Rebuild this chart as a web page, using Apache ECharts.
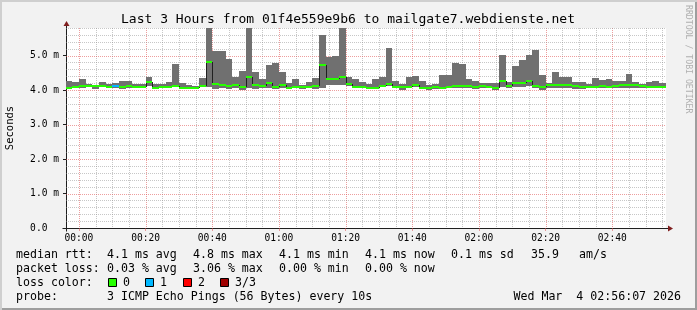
<!DOCTYPE html>
<html>
<head>
<meta charset="utf-8">
<script src="https://cdn.jsdelivr.net/npm/echarts@6/dist/echarts.min.js"></script>
<style>
html,body{margin:0;padding:0;background:#f2f2f2;}
#c{width:697px;height:310px;background:#f2f2f2;box-shadow:inset 2px 2px 0 #cfcfcf, inset -2px -2px 0 #9e9e9e;}
</style>
</head>
<body>
<div id="c"></div>
<script>
// ---------------- DATA ----------------
// time axis in minutes relative to 00:00 (Wed Mar 4 2026)
const windowStart = -(3 + 53 / 60);   // 23:56:07
const windowEnd = 176 + 7 / 60;       // 02:56:07
const firstBarStart = -4;             // 23:56:00
const barMinutes = 2;

// RTT values in milliseconds, one entry per 2-minute bar
const rttMax = [
  4.25, 4.24, 4.31, 4.17, 4.14, 4.23, 4.17, 4.20, 4.25, 4.25,
  4.19, 4.17, 4.38, 4.19, 4.19, 4.22, 4.75, 4.20, 4.14, 4.12,
  4.34, 6.20, 5.12, 5.14, 4.90, 4.38, 4.55, 6.10, 4.52, 4.31,
  4.73, 4.79, 4.52, 4.20, 4.31, 4.15, 4.22, 4.35, 5.61, 4.97,
  4.98, 6.10, 4.38, 4.32, 4.24, 4.17, 4.31, 4.38, 5.23, 4.26,
  4.17, 4.37, 4.40, 4.25, 4.16, 4.19, 4.43, 4.43, 4.78, 4.75,
  4.31, 4.25, 4.20, 4.20, 4.20, 5.02, 4.22, 4.70, 4.87, 5.02,
  5.16, 4.43, 4.21, 4.52, 4.38, 4.38, 4.23, 4.23, 4.17, 4.34,
  4.29, 4.31, 4.25, 4.25, 4.46, 4.23, 4.17, 4.23, 4.25, 4.20
];
const rttMedian = [
  4.07, 4.10, 4.12, 4.11, 4.11, 4.12, 4.10, 4.11, 4.10, 4.12,
  4.10, 4.10, 4.22, 4.07, 4.09, 4.09, 4.12, 4.06, 4.06, 4.06,
  4.11, 4.82, 4.17, 4.14, 4.12, 4.14, 4.09, 4.38, 4.15, 4.11,
  4.21, 4.10, 4.15, 4.05, 4.10, 4.10, 4.10, 4.12, 4.74, 4.33,
  4.33, 4.39, 4.17, 4.09, 4.09, 4.07, 4.07, 4.12, 4.17, 4.09,
  4.09, 4.09, 4.15, 4.07, 4.06, 4.10, 4.07, 4.10, 4.12, 4.12,
  4.12, 4.09, 4.11, 4.10, 4.06, 4.26, 4.11, 4.21, 4.21, 4.25,
  4.11, 4.08, 4.14, 4.14, 4.14, 4.14, 4.11, 4.09, 4.09, 4.09,
  4.11, 4.09, 4.11, 4.14, 4.14, 4.14, 4.11, 4.09, 4.09, 4.09
];
const rttMin = [
  4.04, 4.07, 4.07, 4.09, 4.04, 4.09, 4.07, 4.07, 4.02, 4.07,
  4.09, 4.09, 4.12, 4.03, 4.06, 4.06, 4.08, 4.04, 4.04, 4.04,
  4.08, 4.08, 4.04, 4.07, 4.03, 4.07, 4.01, 4.07, 4.03, 4.07,
  4.07, 4.04, 4.07, 4.02, 4.07, 4.03, 4.07, 4.03, 4.07, 4.15,
  4.15, 4.16, 4.11, 4.05, 4.07, 4.04, 4.04, 4.09, 4.11, 4.07,
  4.01, 4.07, 4.10, 4.04, 4.01, 4.04, 4.04, 4.07, 4.07, 4.07,
  4.07, 4.04, 4.07, 4.07, 4.01, 4.09, 4.07, 4.09, 4.10, 4.12,
  4.05, 4.01, 4.07, 4.07, 4.07, 4.07, 4.04, 4.04, 4.07, 4.05,
  4.07, 4.05, 4.07, 4.07, 4.07, 4.07, 4.07, 4.05, 4.07, 4.07
];
// lost pings per bar (index into lossLabels / lossColors)
const lossClass = [
  0, 0, 0, 0, 0, 0, 0, 1, 0, 0,
  0, 0, 0, 0, 0, 0, 0, 0, 0, 0,
  0, 0, 0, 0, 0, 0, 0, 0, 0, 0,
  0, 0, 0, 0, 0, 0, 0, 0, 0, 0,
  0, 0, 0, 0, 0, 0, 0, 0, 0, 0,
  0, 0, 0, 0, 0, 0, 0, 0, 0, 0,
  0, 0, 0, 0, 0, 0, 0, 0, 0, 0,
  0, 0, 0, 0, 0, 0, 0, 0, 0, 0,
  0, 0, 0, 0, 0, 0, 0, 0, 0, 0
];
const lossLabels = ['0', '1', '2', '3/3'];
const lossColors = ['#26ff00', '#00b8ff', '#ff0000', '#a00000'];

// tick labels
const xTickValues = [0, 20, 40, 60, 80, 100, 120, 140, 160];
const xTickLabels = ['00:00', '00:20', '00:40', '01:00', '01:20', '01:40', '02:00', '02:20', '02:40'];
const yTickValues = [0, 1, 2, 3, 4, 5];
const yTickLabels = ['0.0  ', '1.0 m', '2.0 m', '3.0 m', '4.0 m', '5.0 m'];
const yMax = 5.8;

// text
const titleText = 'Last 3 Hours from 01f4e559e9b6 to mailgate7.webdienste.net';
const rttStats = ['4.1 ms avg', '4.8 ms max', '4.1 ms min', '4.1 ms now', '0.1 ms sd', '35.9', 'am/s'];
const lossStats = ['0.03 % avg', '3.06 % max', '0.00 % min', '0.00 % now'];
const probeText = '3 ICMP Echo Pings (56 Bytes) every 10s';
const dateText = 'Wed Mar  4 02:56:07 2026';

// ---------------- STYLE ----------------
const MONO = '"DejaVu Sans Mono", "Liberation Mono", monospace';
const SMOKE = '#707070';
const GRID_MINOR = 'rgba(143,143,143,0.5)';
const GRID_MAJOR = 'rgba(222,79,79,0.55)';
const AXIS = '#1f1f1f';
const ARROW = '#801f1f';

// ---------------- BUILD ----------------
const barData = rttMedian.map((m, i) => [
  firstBarStart + i * barMinutes,
  firstBarStart + (i + 1) * barMinutes,
  rttMin[i], rttMax[i], m,
  i > 0 ? rttMedian[i - 1] : m,
  lossClass[i]
]);

const vGrid = [];
for (let v = Math.ceil(windowStart / 5) * 5; v < windowEnd; v += 5) {
  if (v <= windowStart) continue;
  vGrid.push([v, 0, v % 20 === 0 ? 1 : 0]);
}
const hGrid = [];
for (let k = 1; k <= Math.round(yMax * 5); k++) {
  hGrid.push([windowStart, k / 5, k % 5 === 0 ? 1 : 0]);
}

function renderVGrid(params, api) {
  const cs = params.coordSys;
  const x = Math.round(api.coord([api.value(0), 0])[0]) + 0.5;
  return {
    type: 'line', silent: true,
    shape: { x1: x, y1: cs.y, x2: x, y2: cs.y + cs.height },
    style: { stroke: api.value(2) ? GRID_MAJOR : GRID_MINOR, lineWidth: 1, lineDash: [1, 1] }
  };
}
function renderHGrid(params, api) {
  const cs = params.coordSys;
  const y = Math.round(api.coord([windowStart, api.value(1)])[1]) + 0.5;
  return {
    type: 'line', silent: true,
    shape: { x1: cs.x, y1: y, x2: cs.x + cs.width, y2: y },
    style: { stroke: api.value(2) ? GRID_MAJOR : GRID_MINOR, lineWidth: 1, lineDash: [1, 1] }
  };
}
function renderBar(params, api) {
  const cs = params.coordSys;
  const t0 = api.value(0), t1 = api.value(1);
  const lo = api.value(2), hi = api.value(3), med = api.value(4), prev = api.value(5);
  const loss = api.value(6);
  const a = api.coord([t0, hi]), b = api.coord([t1, lo]);
  const xl = Math.round(Math.max(a[0], cs.x));
  const xr = Math.round(Math.min(b[0], cs.x + cs.width));
  const top = Math.round(Math.max(a[1], cs.y));
  const bot = Math.round(Math.min(b[1], cs.y + cs.height));
  const ym = Math.round(api.coord([t0, med])[1]);
  const yp = Math.round(api.coord([t0, prev])[1]);
  const children = [];
  if (xr > xl && bot > top) {
    children.push({ type: 'rect', shape: { x: xl, y: top, width: xr - xl, height: bot - top }, style: { fill: SMOKE } });
  }
  children.push({ type: 'polyline', shape: { points: [[xl + 0.5, yp], [xl + 0.5, ym], [xr, ym]] },
    style: { stroke: '#202020', lineWidth: 1, fill: null } });
  children.push({ type: 'rect', shape: { x: xl, y: ym - 1, width: xr - xl, height: 2 },
    style: { fill: lossColors[loss] } });
  return { type: 'group', children };
}

const chart = echarts.init(document.getElementById('c'), null, { renderer: 'canvas' });
chart.setOption({
  animation: false,
  backgroundColor: 'transparent',
  grid: { left: 66, top: 28, width: 600, height: 200, show: true, backgroundColor: '#ffffff', borderWidth: 0 },
  xAxis: {
    type: 'value', min: windowStart, max: windowEnd,
    axisLine: { show: true, onZero: false, lineStyle: { color: AXIS, width: 1 } },
    axisTick: { show: true, customValues: xTickValues, length: 3, lineStyle: { color: GRID_MAJOR } },
    axisLabel: {
      show: true, customValues: xTickValues, margin: 5, color: '#000',
      fontFamily: MONO, fontSize: 9.6,
      formatter: v => { const i = xTickValues.indexOf(Math.round(v)); return i >= 0 ? xTickLabels[i] : ''; }
    },
    splitLine: { show: false }
  },
  yAxis: {
    type: 'value', min: 0, max: yMax, interval: 1,
    axisLine: { show: true, onZero: false, lineStyle: { color: AXIS, width: 1 } },
    axisTick: { show: true, length: 3, lineStyle: { color: AXIS } },
    axisLabel: {
      show: true, margin: 7, color: '#000', fontFamily: MONO, fontSize: 9.6, showMaxLabel: false,
      formatter: v => { const i = yTickValues.indexOf(v); return i >= 0 ? yTickLabels[i] : ''; }
    },
    splitLine: { show: false }
  },
  series: [
    { type: 'custom', name: 'vgrid', z: 1, silent: true, renderItem: renderVGrid, data: vGrid, encode: { x: 0, y: 1 } },
    { type: 'custom', name: 'hgrid', z: 1, silent: true, renderItem: renderHGrid, data: hGrid, encode: { x: 0, y: 1 } },
    { type: 'custom', name: 'rtt', z: 3, silent: true, renderItem: renderBar, data: barData, encode: { x: [0, 1], y: [2, 3] } }
  ]
});

// ---------------- decorations (text, legend, axis arrows) ----------------
const corner0 = chart.convertToPixel({ gridIndex: 0 }, [windowStart, 0]);
const cornerTop = chart.convertToPixel({ gridIndex: 0 }, [windowStart, yMax]);
const cornerRight = chart.convertToPixel({ gridIndex: 0 }, [windowEnd, 0]);
const ax = Math.round(corner0[0]) + 0.5;
const ay = Math.round(corner0[1]) + 0.5;
const topY = Math.round(cornerTop[1]);
const rightX = Math.round(cornerRight[0]);

function txt(text, x, y, size, extra) {
  return Object.assign({ type: 'text', silent: true, x: x, y: y,
    style: Object.assign({ text: text, fill: '#000', fontFamily: MONO, fontSize: size, verticalAlign: 'middle', align: 'left' }, extra || {}) });
}
const g = [];
g.push(txt(titleText, 348, 20, 13, { align: 'center' }));
g.push(Object.assign(txt('Seconds', 10, 128, 10.5, { align: 'center' }), { rotation: Math.PI / 2 }));
g.push(Object.assign(txt('RRDTOOL / TOBI OETIKER', 688, 5, 8.2, { fill: '#b0b0b0' }), { rotation: -Math.PI / 2 }));

const FS = 11.6;
const col = [107, 193, 279, 365, 451, 531, 579];
g.push(txt('median rtt:', 16, 255, FS));
rttStats.forEach((s, i) => g.push(txt(s, col[i], 255, FS)));
g.push(txt('packet loss:', 16, 269, FS));
lossStats.forEach((s, i) => g.push(txt(s, col[i], 269, FS)));
g.push(txt('loss color:', 16, 283, FS));
const boxX = [108, 145, 183, 220];
lossLabels.forEach((s, i) => {
  g.push({ type: 'rect', silent: true, shape: { x: boxX[i] + 0.5, y: 278.5, width: 8, height: 8 },
    style: { fill: lossColors[i], stroke: '#000', lineWidth: 1 } });
  g.push(txt(s, boxX[i] + 15, 283, FS));
});
g.push(txt('probe:', 16, 297, FS));
g.push(txt(probeText, 107, 297, FS));
g.push(txt(dateText, 681, 297, FS, { align: 'right' }));

// axis extensions and arrows
g.push({ type: 'line', silent: true, shape: { x1: ax, y1: ay + 3, x2: ax, y2: topY - 2 }, style: { stroke: AXIS, lineWidth: 1 } });
g.push({ type: 'line', silent: true, shape: { x1: ax - 4, y1: ay, x2: rightX + 2, y2: ay }, style: { stroke: AXIS, lineWidth: 1 } });
g.push({ type: 'polygon', silent: true, shape: { points: [[ax, topY - 7], [ax - 3, topY - 2], [ax + 3, topY - 2]] }, style: { fill: ARROW } });
g.push({ type: 'polygon', silent: true, shape: { points: [[rightX + 7, ay], [rightX + 2, ay - 3], [rightX + 2, ay + 3]] }, style: { fill: ARROW } });

chart.setOption({ graphic: g });
</script>
</body>
</html>
